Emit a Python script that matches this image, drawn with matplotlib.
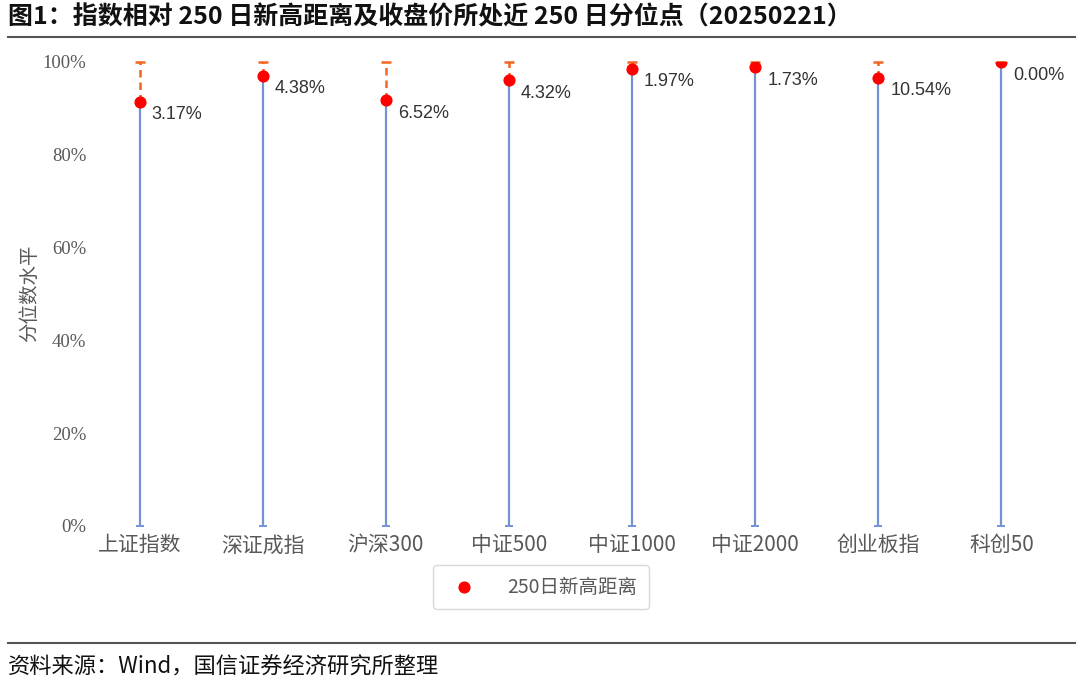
import matplotlib
matplotlib.use("Agg")
import matplotlib.pyplot as plt
import numpy as np

categories = ["上证指数", "深证成指", "沪深300", "中证500", "中证1000", "中证2000", "创业板指", "科创50"]
percentile = [0.914, 0.970, 0.918, 0.961, 0.985, 0.989, 0.966, 1.000]
distance_labels = ["3.17%", "4.38%", "6.52%", "4.32%", "1.97%", "1.73%", "10.54%", "0.00%"]
yticks = [0, 0.2, 0.4, 0.6, 0.8, 1.0]
ytick_labels = ["0%", "20%", "40%", "60%", "80%", "100%"]

CJK = ["Noto Sans CJK SC", "DejaVu Sans"]
plt.rcParams["font.family"] = CJK

W, H = 1080, 683
fig = plt.figure(figsize=(W / 100, H / 100), dpi=100)

x0, x1 = 78, 1063
y_top, y_bot = 62, 526
ax = fig.add_axes([x0 / W, 1 - y_bot / H, (x1 - x0) / W, (y_bot - y_top) / H])

x = np.arange(len(categories))
vals = np.array(percentile)

# lower (blue) range line with cap at 0
eb1 = ax.errorbar(x, vals, yerr=[vals, np.zeros_like(vals)], fmt="none",
                  ecolor="#7393D6", elinewidth=1.6, capsize=3, capthick=1.4, zorder=2)
# upper (orange dashed) to 100%
eb2 = ax.errorbar(x, vals, yerr=[np.zeros_like(vals), 1 - vals], fmt="none",
                  ecolor="#F26522", elinewidth=1.8, capsize=3.5, capthick=1.8, zorder=2)
for lc in eb2[2]:
    lc.set_linestyle((0, (3, 2)))
for art in list(eb1[1]) + list(eb2[1]) + list(eb1[2]) + list(eb2[2]):
    art.set_clip_on(False)

sc = ax.scatter(x, vals, s=60, color="#FF0000", zorder=3, label="250日新高距离")

for xi, v, lab in zip(x, vals, distance_labels):
    ax.annotate(lab, (xi, v), xytext=(12, -13), textcoords="offset pixels",
                ha="left", va="center", fontsize=13, color="#333333",
                family=["Liberation Sans", "DejaVu Sans"])

ax.set_xlim(-0.5, len(categories) - 0.5)
ax.set_ylim(0, 1.0)
ax.set_yticks(yticks)
ax.set_yticklabels(ytick_labels, family=["Liberation Serif", "DejaVu Serif"],
                   fontsize=13.5, color="#595959")
ax.set_xticks(x)
ax.set_xticklabels(categories, fontsize=15, color="#595959", family=CJK)
ax.tick_params(axis="both", length=0)
ax.tick_params(axis="y", pad=-6)
ax.tick_params(axis="x", pad=6)
for s in ax.spines.values():
    s.set_visible(False)

fig.text(30 / W, 1 - 293 / H, "分位数水平", rotation=90, ha="center", va="center",
         fontsize=14, color="#595959", family=CJK)

leg = fig.legend(handles=[sc], loc="center", bbox_to_anchor=(541 / W, 1 - 587 / H),
                 frameon=True, fancybox=True, edgecolor="#D0D0D0",
                 handletextpad=1.2, borderpad=0.6, markerscale=1.0,
                 prop={"family": CJK, "size": 14})
for t in leg.get_texts():
    t.set_color("#595959")

# title and rules
fig.text(8 / W, 1 - 17 / H, "图1：指数相对 250 日新高距离及收盘价所处近 250 日分位点（20250221）",
         ha="left", va="center", fontsize=18, fontweight="bold", color="#111111", family=CJK)
fig.add_artist(plt.Line2D([8 / W, 1075 / W], [1 - 37 / H, 1 - 37 / H], color="#555555", lw=1.5))
fig.add_artist(plt.Line2D([8 / W, 1075 / W], [1 - 643 / H, 1 - 643 / H], color="#555555", lw=1.5))
fig.text(8 / W, 1 - 667 / H, "资料来源：Wind，国信证券经济研究所整理",
         ha="left", va="center", fontsize=16, fontweight="medium", color="#111111", family=CJK)

fig.savefig("out.png", dpi=100)
